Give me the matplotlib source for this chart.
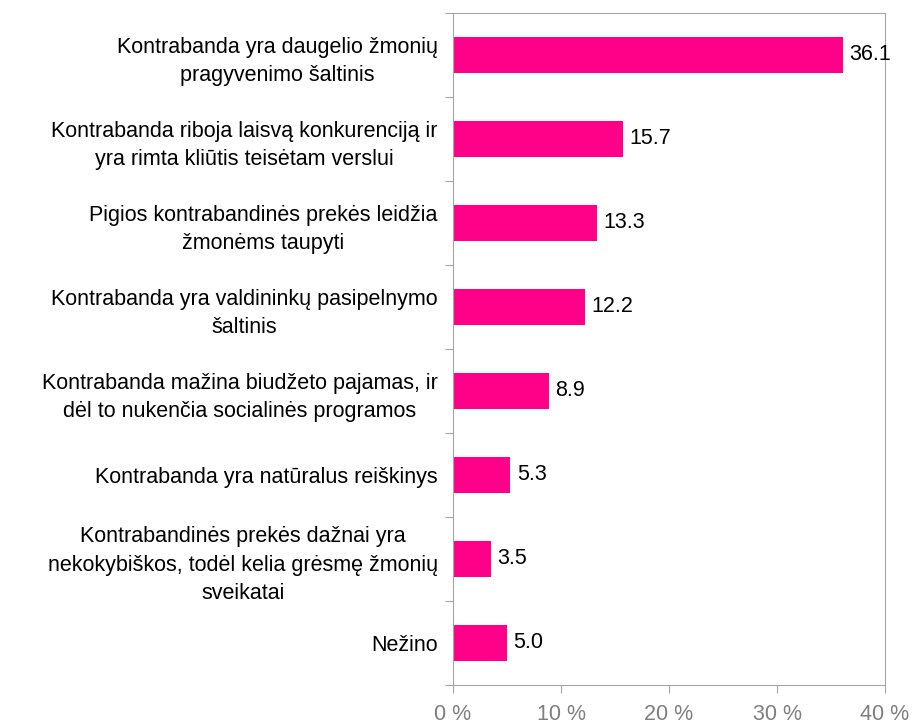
import matplotlib.pyplot as plt
import numpy as np

plt.rcParams['font.family'] = ['Liberation Sans', 'DejaVu Sans']

categories = [
    "Kontrabanda yra daugelio žmonių\npragyvenimo šaltinis",
    "Kontrabanda riboja laisvą konkurenciją ir\nyra rimta kliūtis teisėtam verslui",
    "Pigios kontrabandinės prekės leidžia\nžmonėms taupyti",
    "Kontrabanda yra valdininkų pasipelnymo\nšaltinis",
    "Kontrabanda mažina biudžeto pajamas, ir\ndėl to nukenčia socialinės programos",
    "Kontrabanda yra natūralus reiškinys",
    "Kontrabandinės prekės dažnai yra\nnekokybiškos, todėl kelia grėsmę žmonių\nsveikatai",
    "Nežino",
]
values = [36.1, 15.7, 13.3, 12.2, 8.9, 5.3, 3.5, 5.0]
xticks = [0, 10, 20, 30, 40]
xticklabels = ["0 %", "10 %", "20 %", "30 %", "40 %"]

bar_color = "#FF0088"
frame_color = "#A6A6A6"
fs = 15.5

fig = plt.figure(figsize=(9.13, 7.25), dpi=100)
ax = fig.add_axes([453/913, 40/725, 432/913, 672/725])

y = np.arange(len(categories))
ax.barh(y, values, height=0.42, color=bar_color)
for yi, v in zip(y, values):
    ax.text(v + 0.6, yi, f"{v:.1f}", va="center", ha="left", fontsize=fs, color="black")

ax.set_xlim(0, 40)
ax.set_ylim(len(categories) - 0.5, -0.5)

ax.set_xticks(xticks)
ax.set_xticklabels(xticklabels, fontsize=fs, color="#7F7F7F")
ax.tick_params(axis="x", direction="out", length=6, color=frame_color, pad=8)

ax.set_yticks(np.arange(len(categories) + 1) - 0.5)
ax.set_yticklabels([])
ax.tick_params(axis="y", which="major", direction="out", length=6, color=frame_color)
ax.set_yticks(y, minor=True)
ax.set_yticklabels(categories, minor=True, fontsize=fs, multialignment="center", linespacing=1.45)
ax.tick_params(axis="y", which="minor", length=0, pad=11)

for s in ax.spines.values():
    s.set_color(frame_color)

fig.savefig("out.png", dpi=100)
